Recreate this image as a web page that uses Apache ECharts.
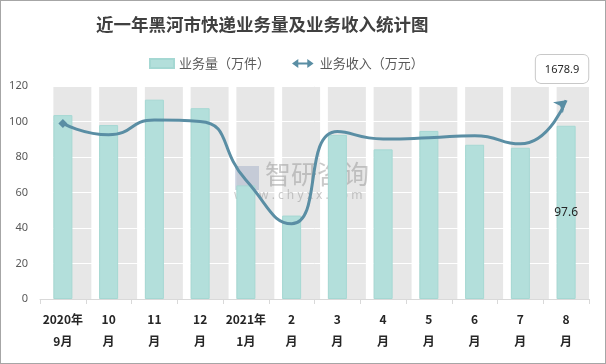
<!DOCTYPE html>
<html><head><meta charset="utf-8">
<script src="https://cdn.jsdelivr.net/npm/echarts@6/dist/echarts.min.js"></script>
<style>html,body{margin:0;padding:0;background:#fff}#c{width:606px;height:364px;box-sizing:border-box;border:1px solid #a6a6a6}</style>
</head><body><div id="c"></div>
<script>
const categories = ['2020年\n9月','10\n月','11\n月','12\n月','2021年\n1月','2\n月','3\n月','4\n月','5\n月','6\n月','7\n月','8\n月'];
const volume = [103.6, 98.0, 112.3, 107.5, 64.0, 47.0, 92.5, 84.3, 94.7, 86.9, 85.2, 97.6];
const revenue = [1484, 1388, 1512, 1500, 1005, 636, 1415, 1353, 1362, 1380, 1311, 1678.9];
const bandMax = [120,120,120,120,120,120,120,120,120,120,120,120];
const yTicks = [0, 20, 40, 60, 80, 100, 120];

const chart = echarts.init(document.getElementById('c'));
const last = volume.length - 1;
chart.setOption({
  animation: false,
  title: {
    text: '近一年黑河市快递业务量及业务收入统计图',
    left: 95, top: 15, padding: 0,
    textStyle: {fontFamily: 'Noto Sans CJK SC', fontSize: 17.5, fontWeight: 'bold', color: '#404040'}
  },
  legend: {
    left: 143, top: 51, itemGap: 22, itemWidth: 24, itemHeight: 9,
    textStyle: {fontFamily: 'Noto Sans CJK SC', fontSize: 13, color: '#595959'},
    data: [
      {name: '业务量（万件）', icon: 'rect'},
      {name: '业务收入（万元）', icon: 'path://M0,5 L7,0 L7,4 L17,4 L17,0 L24,5 L17,10 L17,6 L7,6 L7,10 Z'}
    ]
  },
  grid: {left: 39, right: 16, top: 85, bottom: 64},
  xAxis: {
    type: 'category', data: categories,
    axisLine: {lineStyle: {color: '#d9d9d9'}},
    axisTick: {show: true, length: 5, lineStyle: {color: '#d9d9d9'}},
    axisLabel: {interval: 0, margin: 9, fontFamily: 'Noto Sans CJK SC', fontWeight: 'bold', fontSize: 12, lineHeight: 22, color: '#262626'}
  },
  yAxis: [{
    type: 'value', min: yTicks[0], max: yTicks[yTicks.length-1], interval: 20,
    axisLine: {show: false}, axisTick: {show: false},
    axisLabel: {margin: 12, fontSize: 11, color: '#595959', fontFamily: 'Noto Sans'},
    splitLine: {lineStyle: {color: '#ffffff', width: 1}}
  }, {
    type: 'value', min: 0, max: 1800, show: false, splitLine: {show: false}
  }],
  graphic: [
    {type: 'rect', left: 234, top: 165, shape: {width: 24, height: 24}, style: {fill: 'rgba(120,140,180,0.3)'}, z: 1},
    {type: 'text', left: 264, top: 160, style: {text: '智研咨询', font: '26px "Noto Sans CJK SC"', fill: 'rgba(150,150,150,0.5)'}, z: 1},
    {type: 'text', left: 233, top: 189, style: {text: 'w w w . c h y x x . c o m', font: '12px "Noto Sans"', fill: 'rgba(150,150,150,0.5)'}, z: 1}
  ],
  series: [
    {
      name: 'band', type: 'bar', data: bandMax, barWidth: '83%', barGap: '-100%', z: -1, silent: true,
      itemStyle: {color: '#e7e7e7'}
    },
    {
      name: '业务量（万件）', type: 'bar', barWidth: 19, z: 3,
      data: volume.map((v, i) => i === last ? {value: v, label: {show: true, position: 'inside', color: '#262626', fontSize: 12, fontFamily: 'Noto Sans'}} : v),
      itemStyle: {color: '#b3dfdb', borderColor: '#a5d8d3', borderWidth: 1}
    },
    {
      name: '业务收入（万元）', type: 'line', yAxisIndex: 1, smooth: 0.55, z: 5,
      data: revenue.map((v, i) => i === last ? {value: v, label: {show: true, position: 'top', distance: 12, formatter: '{c}', color: '#262626', fontSize: 11, fontFamily: 'Noto Sans', backgroundColor: '#fff', borderColor: '#c8c8c8', borderWidth: 1, borderRadius: 5, padding: [9, 9, 8, 9]}} : v),
      lineStyle: {color: '#5a8ea4', width: 3},
      itemStyle: {color: '#5a8ea4'},
      showAllSymbol: true,
      symbol: (v, p) => p.dataIndex === 0 ? 'diamond' : (p.dataIndex === last ? 'arrow' : 'none'),
      symbolSize: (v, p) => p.dataIndex === 0 ? 9 : 11,
      symbolRotate: (v, p) => p.dataIndex === last ? -48 : 0
    }
  ]
});
</script></body></html>
